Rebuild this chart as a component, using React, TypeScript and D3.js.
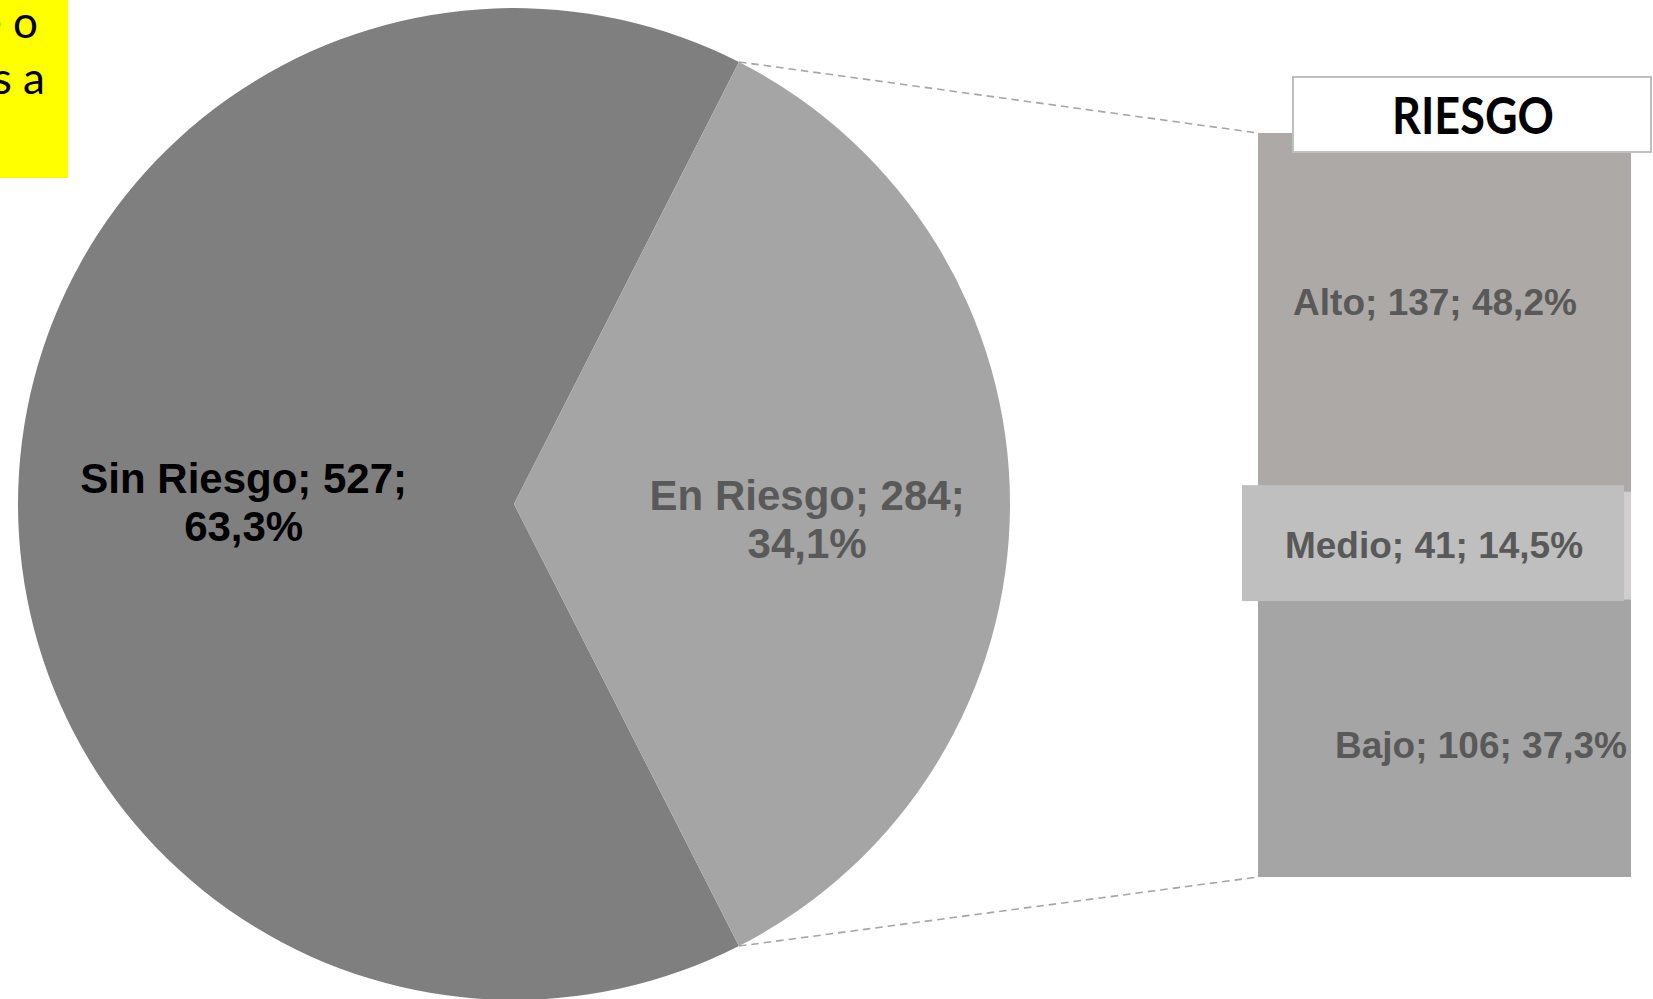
import React from "react";
import * as d3 from "d3";

// ---- data ----
const pieCategories = ["Sin Riesgo", "En Riesgo"];
const pieValues = [527, 284];
const piePercents = ["63,3%", "34,1%"];

const barCategories = ["Alto", "Medio", "Bajo"];
const barValues = [137, 41, 106];
const barPercents = ["48,2%", "14,5%", "37,3%"];

const barTitle = "RIESGO";
const noteLines = ["e o", "as a"];

// ---- layout / style ----
const W = 1653;
const H = 999;
const cx = 514;
const cy = 504;
const R = 496;
const pieColors = ["#7F7F7F", "#A5A5A5"];
const pieLabelColors = ["#000000", "#595959"];
const pieLabelK = [0.545, 0.591];
const pieLabelDy = [-11, 6];

const barX0 = 1258;
const barX1 = 1631;
const barY0 = 133;
const barY1 = 877;
const barColors = ["#ADA9A7", "#D0CECE", "#A5A5A5"];
const barLabelX = [1435, 1434, 1481];
const barLabelDy = [2.5, 12, 20];

export default function App() {
  const total = d3.sum(pieValues);
  const enAngle = (pieValues[1] / total) * 2 * Math.PI;
  const start = Math.PI / 2 + enAngle / 2;
  const pie = d3
    .pie<number>()
    .sort(null)
    .startAngle(start)
    .endAngle(start + 2 * Math.PI);
  const arcs = pie(pieValues);
  const arcGen = d3.arc<d3.PieArcDatum<number>>().innerRadius(0).outerRadius(R);

  const enArc = arcs[1];
  const pTop: [number, number] = [cx + R * Math.sin(enArc.startAngle), cy - R * Math.cos(enArc.startAngle)];
  const pBot: [number, number] = [cx + R * Math.sin(enArc.endAngle), cy - R * Math.cos(enArc.endAngle)];

  const barTotal = d3.sum(barValues);
  const y = d3.scaleLinear().domain([0, barTotal]).range([barY0, barY1]);
  const cum = barValues.map((_, i) => d3.sum(barValues.slice(0, i)));

  const pieFont = "'Liberation Sans', Arial, sans-serif";
  const noteFont = "Lato, 'Open Sans', sans-serif";

  return (
    <svg
      width={W}
      height={H}
      style={{ position: "absolute", left: 0, top: 0, background: "#fff" }}
    >
      <defs>
        <clipPath id="noteClip">
          <rect x={0} y={0} width={68} height={178} />
        </clipPath>
      </defs>

      {/* pie */}
      {arcs.map((a, i) => (
        <path
          key={i}
          d={arcGen(a) || ""}
          transform={`translate(${cx},${cy})`}
          fill={pieColors[i]}
        />
      ))}

      {/* connector lines */}
      <line x1={pTop[0]} y1={pTop[1]} x2={barX0} y2={barY0} stroke="#A6A6A6" strokeWidth={1.6} strokeDasharray="7.5,5" />
      <line x1={pBot[0]} y1={pBot[1]} x2={barX0} y2={barY1} stroke="#A6A6A6" strokeWidth={1.6} strokeDasharray="7.5,5" />

      {/* pie labels */}
      {arcs.map((a, i) => {
        const mid = (a.startAngle + a.endAngle) / 2;
        const lx = cx + Math.sin(mid) * R * pieLabelK[i];
        const ly = cy - Math.cos(mid) * R * pieLabelK[i] + pieLabelDy[i];
        return (
          <text
            key={i}
            x={lx}
            y={ly}
            textAnchor="middle"
            fontFamily={pieFont}
            fontWeight="bold"
            fontSize={42}
            fill={pieLabelColors[i]}
          >
            <tspan x={lx} dy={0}>{`${pieCategories[i]}; ${pieValues[i]};`}</tspan>
            <tspan x={lx} dy={48}>{piePercents[i]}</tspan>
          </text>
        );
      })}

      {/* bar segments */}
      {barValues.map((v, i) => (
        <rect
          key={i}
          x={barX0}
          y={y(cum[i])}
          width={barX1 - barX0}
          height={y(cum[i] + v) - y(cum[i])}
          fill={barColors[i]}
        />
      ))}

      {/* medio label box */}
      {(() => {
        const i = 1;
        const mid = (y(cum[i]) + y(cum[i] + barValues[i])) / 2;
        return <rect x={1242} y={mid - 60.5} width={382} height={116} fill="#BFBFBF" />;
      })()}

      {/* bar labels */}
      {barValues.map((v, i) => {
        const mid = (y(cum[i]) + y(cum[i] + v)) / 2;
        return (
          <text
            key={i}
            x={barLabelX[i]}
            y={mid + barLabelDy[i]}
            textAnchor="middle"
            fontFamily={pieFont}
            fontWeight="bold"
            fontSize={37}
            fill="#595959"
          >
            {`${barCategories[i]}; ${v}; ${barPercents[i]}`}
          </text>
        );
      })}

      {/* title box */}
      <rect x={1293} y={77} width={358} height={75} fill="#FFFFFF" stroke="#BFBFBF" strokeWidth={2} />
      <text
        x={1473}
        y={134}
        textAnchor="middle"
        fontFamily={noteFont}
        fontWeight="bold"
        fontSize={51}
        fill="#000"
        textLength={162}
        lengthAdjust="spacingAndGlyphs"
      >
        {barTitle}
      </text>

      {/* yellow note */}
      <rect x={0} y={0} width={68} height={178} fill="#FFFF00" />
      <g clipPath="url(#noteClip)">
        <text x={38} y={38} textAnchor="end" fontFamily={noteFont} fontSize={44} fill="#000">
          {noteLines[0]}
        </text>
        <text x={45} y={94} textAnchor="end" fontFamily={noteFont} fontSize={44} fill="#000">
          {noteLines[1]}
        </text>
      </g>
    </svg>
  );
}
